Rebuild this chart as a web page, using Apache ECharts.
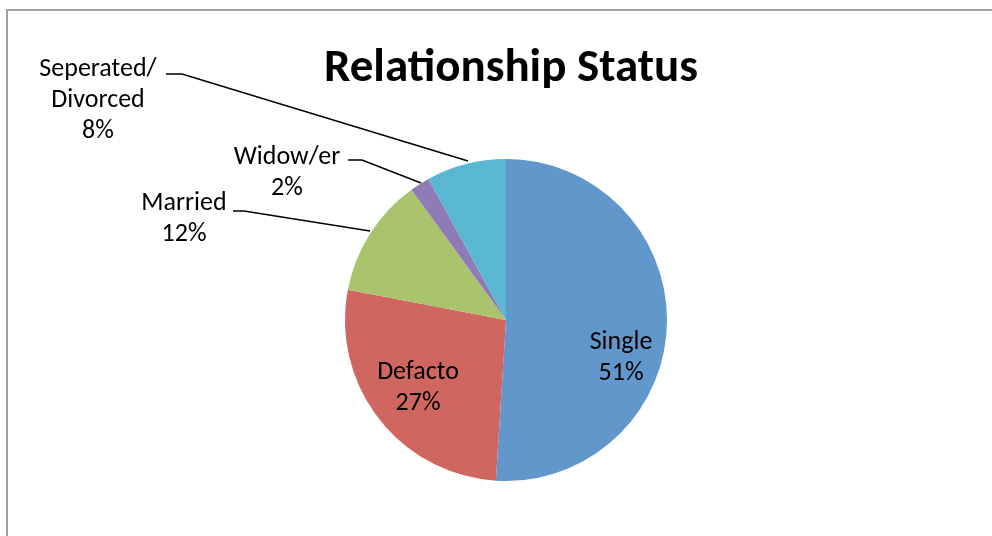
<!DOCTYPE html>
<html>
<head>
<meta charset="utf-8">
<script src="https://cdn.jsdelivr.net/npm/echarts@6/dist/echarts.min.js"></script>
<style>
  html, body { margin: 0; padding: 0; background: #fff; }
  #main { width: 992px; height: 536px; }
</style>
</head>
<body>
<div id="main"></div>
<script>
const categories = ['Single', 'Defacto', 'Married', 'Widow/er', 'Seperated/\nDivorced'];
const shares = [51, 27, 12, 2, 8];
const colors = ['#6197CB', '#CF665F', '#A9C46C', '#8F7BB5', '#5AB7D2'];

// label anchor spots and leader lines, as in the original layout
const labelSpots = [[621, 358], [418, 388], [184, 219], [287, 173], [98, 100]];
const leaderLines = [
  null,
  null,
  [[370, 231], [244, 211], [233, 211]],
  [[421, 183], [362, 160], [348, 160]],
  [[468, 161], [182, 74], [166, 74]]
];

const font = 'Carlito, Calibri, Lato, sans-serif';
const chart = echarts.init(document.getElementById('main'));

chart.setOption({
  animation: false,
  title: {
    text: 'Relationship Status',
    left: 506, top: 41, textAlign: 'center',
    textStyle: { fontFamily: font, fontSize: 47, fontWeight: 'bold', color: '#000' }
  },
  graphic: [{
    type: 'polyline', silent: true,
    shape: { points: [[7, 540], [7, 10], [992, 10]] },
    style: { fill: null, stroke: '#a0a0a0', lineWidth: 2 }
  }],
  series: [{
    type: 'pie',
    center: [506, 320],
    radius: 161,
    startAngle: 90,
    clockwise: true,
    avoidLabelOverlap: false,
    label: {
      formatter: '{b}\n{c}%',
      fontFamily: font, fontSize: 26, lineHeight: 31, color: '#000'
    },
    labelLine: { lineStyle: { color: '#000', width: 1.5 } },
    labelLayout: function (p) {
      const s = labelSpots[p.dataIndex];
      const out = { x: s[0], y: s[1], align: 'center', verticalAlign: 'middle' };
      if (leaderLines[p.dataIndex]) out.labelLinePoints = leaderLines[p.dataIndex];
      return out;
    },
    data: categories.map(function (c, i) {
      return {
        name: c,
        value: shares[i],
        itemStyle: { color: colors[i] },
        labelLine: { show: !!leaderLines[i] }
      };
    })
  }]
});
</script>
</body>
</html>
